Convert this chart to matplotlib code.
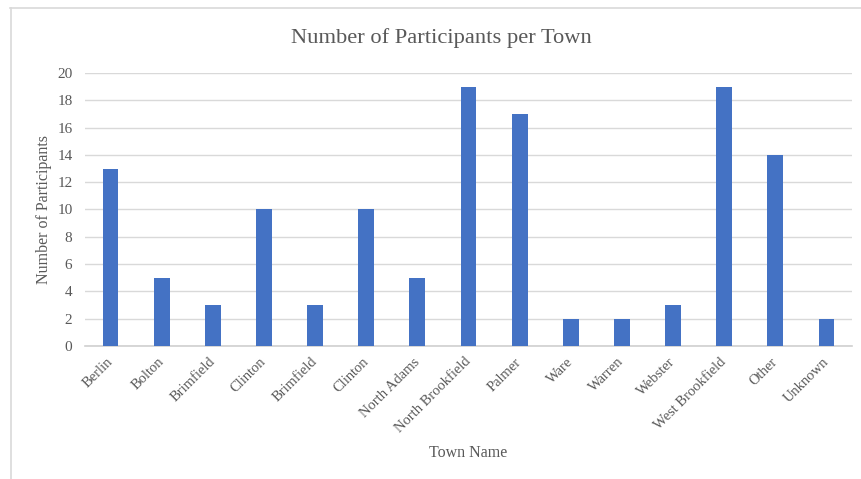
import matplotlib.pyplot as plt
from matplotlib.lines import Line2D

towns = ['Berlin', 'Bolton', 'Brimfield', 'Clinton', 'Brimfield', 'Clinton',
         'North Adams', 'North Brookfield', 'Palmer', 'Ware', 'Warren',
         'Webster', 'West Brookfield', 'Other', 'Unknown']
participants = [13, 5, 3, 10, 3, 10, 5, 19, 17, 2, 2, 3, 19, 14, 2]
y_ticks = list(range(0, 21, 2))

plt.rcParams['font.family'] = ['Liberation Serif', 'DejaVu Serif']
text_color = '#595959'
grid_color = '#d9d9d9'

fig = plt.figure(figsize=(8.62, 4.79), dpi=100)
ax = fig.add_axes([0.0986, 0.2777, 0.8898, 0.5699])

x = range(len(towns))
ax.bar(x, participants, width=0.31, color='#4472C4', zorder=3)

ax.set_xlim(-0.5, len(towns) - 0.5)
ax.set_ylim(0, 20)
ax.set_yticks(y_ticks)
ax.set_xticks(list(x))
ax.set_xticklabels(towns, rotation=45, ha='right', va='center', rotation_mode='anchor')
ax.tick_params(axis='y', length=0, labelsize=11, colors=text_color, pad=9)
ax.tick_params(axis='x', length=0, labelsize=10.5, colors=text_color, pad=10)

ax.grid(axis='y', color=grid_color, linewidth=1, zorder=0)
for side in ['top', 'right', 'left']:
    ax.spines[side].set_visible(False)
ax.spines['bottom'].set_color('#d0d0d0')
ax.spines['bottom'].set_linewidth(1.2)

fig.text(441 / 862, 1 - 38 / 479, 'Number of Participants per Town',
         fontsize=16.2, color=text_color, ha='center', va='center')
ax.set_ylabel('Number of Participants', fontsize=11.5, color=text_color, labelpad=4)
ax.set_xlabel('Town Name', fontsize=11.5, color=text_color, labelpad=7)

# thin frame along the top and left of the chart area
fig.add_artist(Line2D([10 / 862, 1], [1 - 8 / 479] * 2, color=grid_color, linewidth=1.2))
fig.add_artist(Line2D([11 / 862] * 2, [0, 1 - 8 / 479], color=grid_color, linewidth=1.2))

fig.savefig('out.png', dpi=100)
